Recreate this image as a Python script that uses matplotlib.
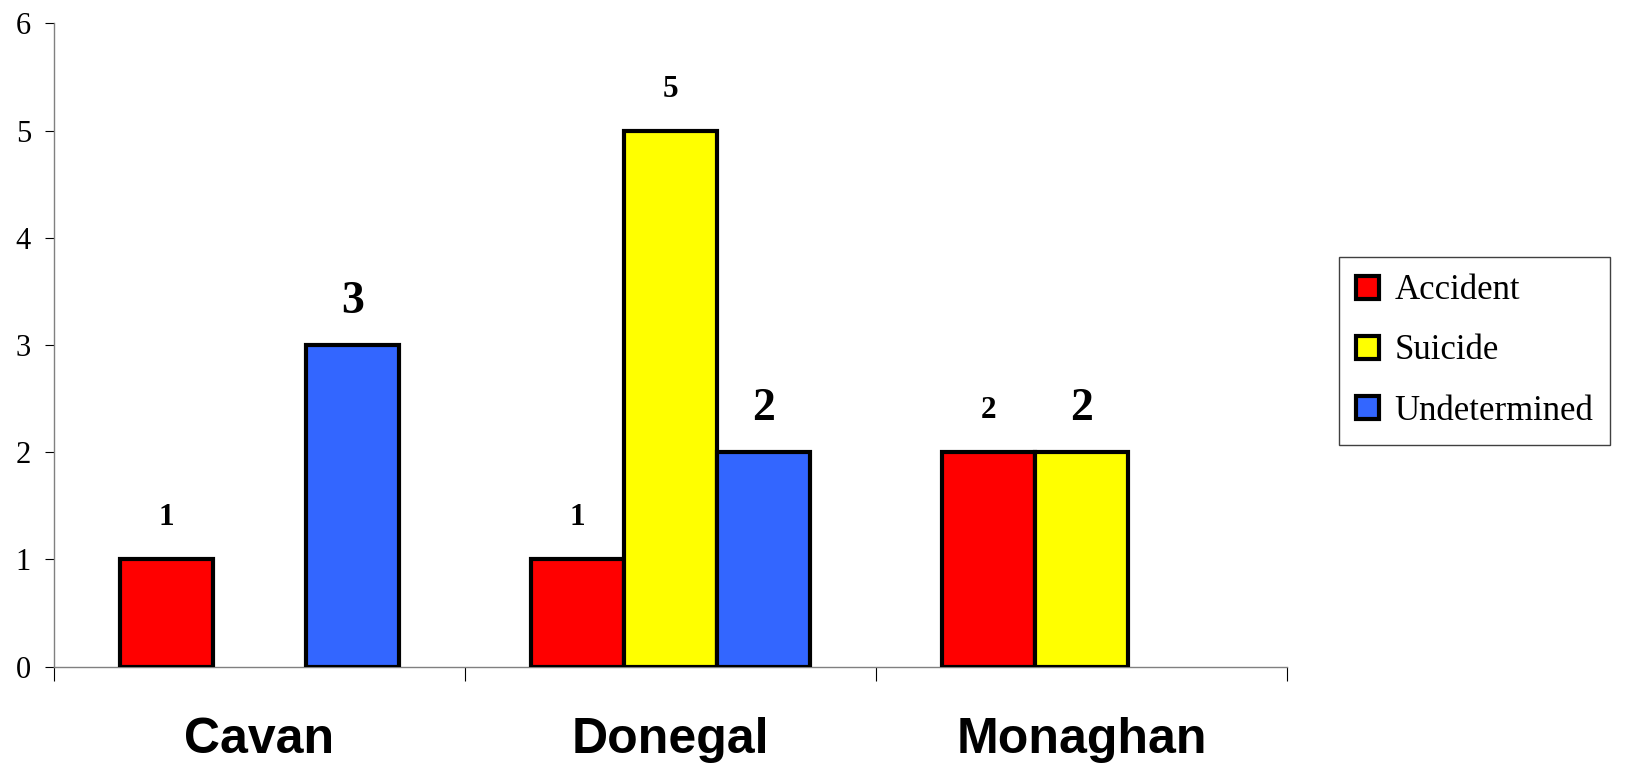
import numpy as np
import matplotlib.pyplot as plt

# data
categories = ['Cavan', 'Donegal', 'Monaghan']
series_names = ['Accident', 'Suicide', 'Undetermined']
accident = [1, 1, 2]
suicide = [0, 5, 2]
undetermined = [3, 2, 0]
y_ticks = [0, 1, 2, 3, 4, 5, 6]
# which value labels are printed in the larger font in the original
big_label = [[False, False, False],   # accident
             [False, False, True],    # suicide
             [True, True, False]]     # undetermined

colors = ['#FF0000', '#FFFF00', '#3366FF']
serif = 'Liberation Serif'

fig = plt.figure(figsize=(16.25, 7.66), dpi=100)
ax = fig.add_axes([54 / 1625, 1 - 666.7 / 766, (1287 - 54) / 1625, (666.7 - 23.3) / 766])

x = np.arange(len(categories))
w = 0.226
offsets = [-w, 0, w]
handles = []
for k, vals in enumerate([accident, suicide, undetermined]):
    vals = np.array(vals)
    keep = vals > 0   # zero bars are not drawn in the original
    bars = ax.bar(x[keep] + offsets[k], vals[keep], width=w, color=colors[k],
                  edgecolor='black', linewidth=3, label=series_names[k], zorder=3)
    handles.append(bars)
    for xi, v, big in zip(x, vals, big_label[k]):
        if v == 0:
            continue
        ax.annotate(str(v), (xi + offsets[k], v), xytext=(0, 23 if big else 24.5),
                    textcoords='offset points', ha='center', va='baseline',
                    fontsize=33 if big else 22.5, fontweight='bold', family=serif)

ax.set_xlim(-0.5, 2.5)
ax.set_ylim(0, 6)

for s in ['top', 'right']:
    ax.spines[s].set_visible(False)
for s in ['left', 'bottom']:
    ax.spines[s].set_color('#808080')
    ax.spines[s].set_linewidth(1)

ax.set_yticks(y_ticks, labels=[str(t) for t in y_ticks], fontsize=22, family=serif)
ax.tick_params(axis='y', direction='out', length=6.5, width=0.8, pad=10, color='black')

# ticks between categories, names centred under the groups
ax.set_xticks([-0.5, 0.5, 1.5, 2.5])
ax.set_xticklabels([])
ax.set_xticks(x, minor=True)
ax.set_xticklabels(categories, minor=True, fontsize=36, fontweight='bold',
                   family='Liberation Sans')
ax.tick_params(axis='x', which='major', direction='out', length=10, width=0.8)
ax.tick_params(axis='x', which='minor', length=0, pad=36)

leg = ax.legend(handles=handles, loc='upper left',
                bbox_to_anchor=(1339 / 1625, 1 - 257 / 766),
                bbox_transform=fig.transFigure, borderaxespad=0,
                prop={'family': serif, 'size': 25}, fancybox=False,
                edgecolor='#404040', handlelength=0.64, handleheight=0.64,
                handletextpad=0.45, labelspacing=0.78, borderpad=0.5)
leg.get_frame().set_linewidth(1)
leg.get_frame().set_alpha(1)

fig.savefig('out.png', dpi=100)
